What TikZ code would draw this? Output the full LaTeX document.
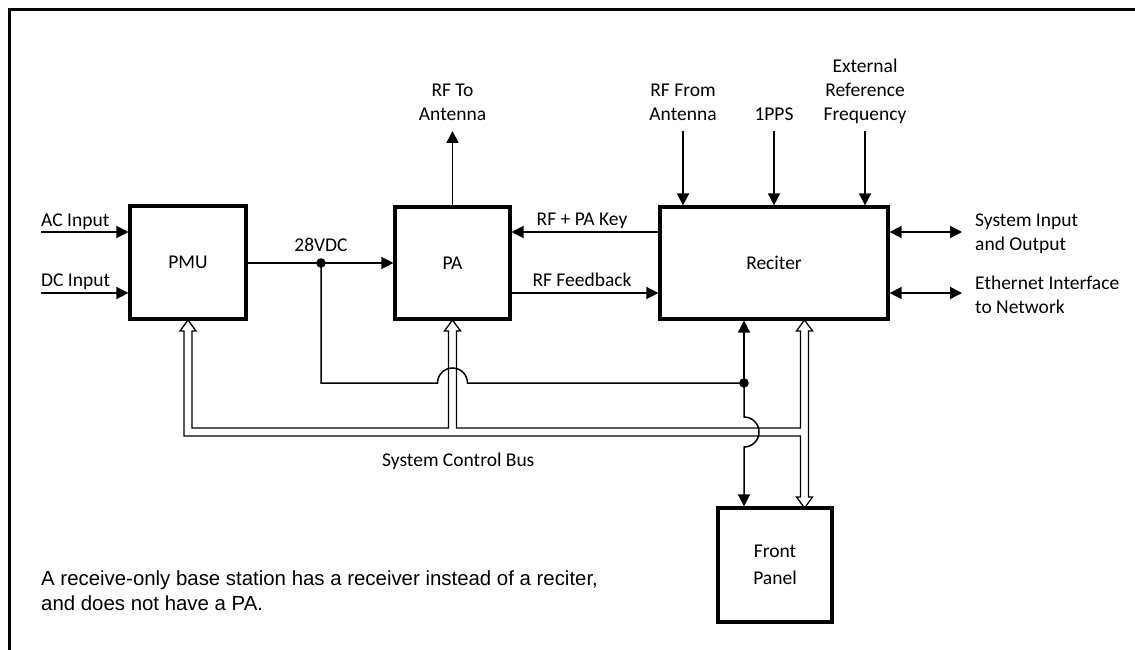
\documentclass[tikz,border=0pt]{standalone}
\usepackage{fontspec}
\setmainfont{Carlito}
\newfontfamily\notefont{Liberation Sans}
\usetikzlibrary{arrows.meta}

\tikzset{
  blk/.style={draw, line width=3.2pt, inner sep=0pt, align=center,
    font=\fontsize{19.5}{27}\selectfont},
  lbl/.style={inner sep=0pt, align=center, font=\fontsize{19.5}{24}\selectfont},
  sig/.style={line width=1.5pt, -{Triangle[length=12pt,width=12pt]}},
  sigboth/.style={line width=1.5pt, {Triangle[length=12pt,width=12pt]}-{Triangle[length=12pt,width=12pt]}},
  bus/.style={line width=1.3pt, line join=miter},
}

\begin{document}
\begin{tikzpicture}[x=1pt,y=-1pt]
  \useasboundingbox (0,0) rectangle (1135,650);
  % frame
  \draw[line width=3pt] (9,650) -- (9,10) -- (1135,10);

  %% BLOCKS
  \node[blk, minimum width=116pt, minimum height=113pt] (pmu) at (188,262.5) {PMU};
  \node[blk, minimum width=115pt, minimum height=112pt] (pa)  at (452.5,263) {PA};
  \node[blk, minimum width=228pt, minimum height=112pt] (rec) at (774,263)   {Reciter};
  \node[blk, minimum width=114pt, minimum height=114pt] (fp)  at (775,565)   {Front\\Panel};

  %% FREE ENDS
  \coordinate (acin)  at (41,232);
  \coordinate (dcin)  at (41,293);
  \coordinate (rfout) at (452.5,131);
  \coordinate (rfin)  at (683,131);
  \coordinate (pps)   at (774,131);
  \coordinate (ref)   at (865,131);
  \coordinate (sysio) at (962,232);
  \coordinate (eth)   at (962,293);
  \coordinate (v28)   at (321,263);  % 28VDC junction
  \coordinate (vrec)  at (744,383);  % junction below reciter

  %% ARROWS
  \draw[sig] (acin) -- (acin -| pmu.west);
  \draw[sig] (dcin) -- (dcin -| pmu.west);
  \draw[sig] (pmu.east |- v28) -- (v28 -| pa.west);
  \draw[sig] (pa.north) -- (rfout);
  \draw[sig] (rec.west |- acin) -- (acin -| pa.east);
  \draw[sig] (pa.east |- dcin) -- (dcin -| rec.west);
  \draw[sig] (rfin) -- (rfin |- rec.north);
  \draw[sig] (pps) -- (rec.north);
  \draw[sig] (ref) -- (ref |- rec.north);
  \draw[sigboth] (rec.east |- sysio) -- (sysio);
  \draw[sigboth] (rec.east |- eth) -- (eth);

  % power to reciter and front panel
  \draw[line width=1.5pt] (v28) -- (321,383) -- (437.5,383)
    arc[start angle=180, end angle=0, radius=15pt] -- (vrec);
  \draw[sig] (vrec) -- (vrec |- rec.south);
  \draw[sig] (vrec) -- (744,417) arc[start angle=90, end angle=-90, radius=15pt]
    -- (vrec |- fp.north);
  \fill (v28) circle (4.8pt);
  \fill (vrec) circle (4.8pt);

  % system control bus (hollow)
  \draw[bus] (188,320) -- (196,331) -- (192,331) -- (192,428) -- (448.5,428)
    -- (448.5,331) -- (444.5,331) -- (452.5,320) -- (460.5,331) -- (456.5,331)
    -- (456.5,428) -- (800.5,428) -- (800.5,331) -- (796.5,331) -- (804.5,320)
    -- (812.5,331) -- (808.5,331) -- (808.5,497) -- (812.5,497) -- (804.5,508)
    -- (796.5,497) -- (800.5,497) -- (800.5,436) -- (184,436) -- (184,331)
    -- (180,331) -- cycle;

  %% LABELS
  \node[lbl, anchor=base west] (lac) at (41,226) {AC Input};
  \node[lbl, anchor=base west] (ldc) at (41,286) {DC Input};
  \node[lbl, anchor=base] (l28) at (321,251) {28VDC};
  \node[lbl, anchor=base] (lkey) at (582,225) {RF + PA Key};
  \node[lbl, anchor=base] (lfb) at (582,286) {RF Feedback};
  \node[lbl, anchor=base] (lrfo) at (452.5,121) {RF To\\Antenna};
  \node[lbl, anchor=base] (lrfi) at (683,121) {RF From\\Antenna};
  \node[lbl, anchor=base] (lpps) at (774,121) {1PPS};
  \node[lbl, anchor=base] (lref) at (865,121) {External\\Reference\\Frequency};
  \node[lbl, anchor=base west, align=left] (lio) at (975,250) {System Input\\and Output};
  \node[lbl, anchor=base west, align=left] (leth) at (975,313) {Ethernet Interface\\to Network};
  \node[lbl, anchor=base west] (lbus) at (382,466) {System Control Bus};
  \node[inner sep=0pt, anchor=base west, align=left,
    font=\notefont\fontsize{20.4}{25}\selectfont] (note) at (41,610)
    {A receive-only base station has a receiver instead of a reciter,\\and does not have a PA.};
\end{tikzpicture}
\end{document}
